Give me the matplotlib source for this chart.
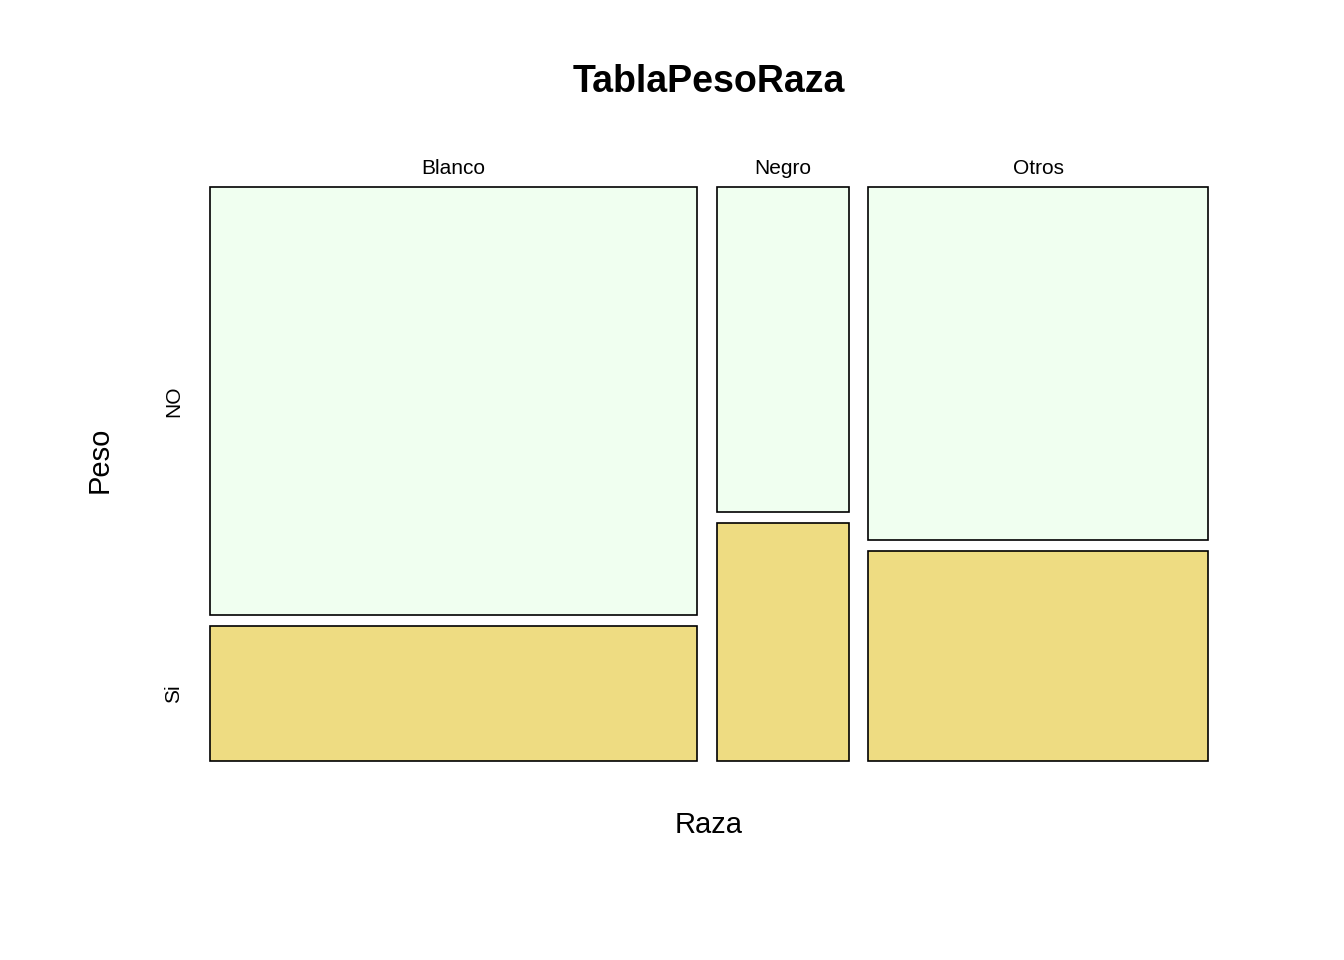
import matplotlib
matplotlib.use("Agg")
import matplotlib.pyplot as plt
import numpy as np

races = ["Blanco", "Negro", "Otros"]
peso_levels = ["NO", "Si"]
counts_no = [73, 15, 42]
counts_si = [23, 11, 25]
colors = {"NO": "#F0FFF0", "Si": "#EEDC82"}

plt.rcParams['font.family'] = ['Liberation Sans', 'DejaVu Sans']
W, H = 1344, 960
fig = plt.figure(figsize=(W / 100, H / 100), dpi=100)
ax = fig.add_axes([210 / W, 1 - 761 / H, (1208 - 210) / W, (761 - 187) / H])

no = np.array(counts_no, dtype=float)
si = np.array(counts_si, dtype=float)
tot = no + si
widths = tot / tot.sum()
gx, gy = 0.0203, 0.0195
lefts = np.concatenate([[0], np.cumsum(widths[:-1] + gx)])
h_si = si / tot
h_no = no / tot

ax.bar(lefts, h_si, width=widths, align='edge', color=colors["Si"],
       edgecolor='black', linewidth=1.2, clip_on=False)
ax.bar(lefts, h_no, width=widths, bottom=h_si + gy, align='edge', color=colors["NO"],
       edgecolor='black', linewidth=1.2, clip_on=False)
ax.set_xlim(0, 1 + 2 * gx)
ax.set_ylim(0, 1 + gy)
ax.axis('off')

for l, w, r in zip(lefts, widths, races):
    ax.annotate(r, xy=(l + w / 2, 1 + gy), xytext=(0, 13), textcoords='offset pixels',
                ha='center', va='baseline', fontsize=15)

ax.annotate(peso_levels[0], xy=(0, h_si[0] + gy + h_no[0] / 2), xytext=(-36, 0),
            textcoords='offset pixels', ha='center', va='center', rotation=90, fontsize=15)
ax.annotate(peso_levels[1], xy=(0, h_si[0] / 2), xytext=(-36, 0),
            textcoords='offset pixels', ha='center', va='center', rotation=90, fontsize=15)

fig.text(709 / W, 1 - 82 / H, "TablaPesoRaza", ha='center', va='center',
         fontsize=27, fontweight='bold')
fig.text(709 / W, 1 - 825 / H, "Raza", ha='center', va='center', fontsize=21)
fig.text(100 / W, 1 - 460 / H, "Peso", ha='center', va='center', fontsize=21, rotation=90)

fig.savefig("out.png", dpi=100, facecolor='white')
